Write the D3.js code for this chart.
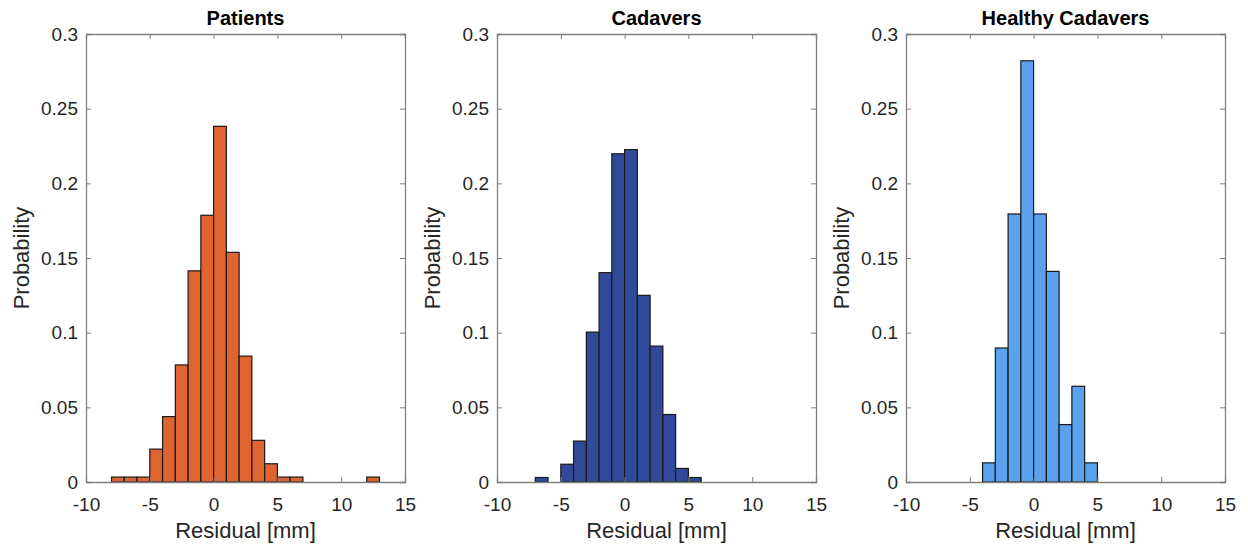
<!DOCTYPE html>
<html>
<head>
<meta charset="utf-8">
<script src="https://cdn.jsdelivr.net/npm/d3@7"></script>
<style>
  body { margin: 0; background: #fff; }
  svg text { font-family: "Liberation Sans", Arial, sans-serif; }
</style>
</head>
<body>
<div id="chart"></div>
<script>
// bin edges are 1 mm wide, listed by left edge
const titles = ["Patients", "Cadavers", "Healthy Cadavers"];
const colors = ["#E06430", "#304A99", "#5AA1EE"];

const patientBins = [-8, -7, -6, -5, -4, -3, -2, -1, 0, 1, 2, 3, 4, 5, 6, 12];
const patientProb = [0.0033, 0.0033, 0.0033, 0.022, 0.0438, 0.0784, 0.1414, 0.1786, 0.2382, 0.1538, 0.0843, 0.0279, 0.0122, 0.0033, 0.0033, 0.0033];

const cadaverBins = [-7, -5, -4, -3, -2, -1, 0, 1, 2, 3, 4, 5];
const cadaverProb = [0.003, 0.0119, 0.0274, 0.1004, 0.1402, 0.2198, 0.2226, 0.125, 0.091, 0.0452, 0.0091, 0.003];

const healthyBins = [-4, -3, -2, -1, 0, 1, 2, 3, 4];
const healthyProb = [1/78, 7/78, 14/78, 22/78, 14/78, 11/78, 3/78, 5/78, 1/78];

const xTicks = [-10, -5, 0, 5, 10, 15];
const yTicks = [0, 0.05, 0.1, 0.15, 0.2, 0.25, 0.3];

const panels = [
  { bins: patientBins, prob: patientProb },
  { bins: cadaverBins, prob: cadaverProb },
  { bins: healthyBins, prob: healthyProb }
];

const svgWidth = 1248;
const svgHeight = 548;
const panelLeft = [86, 497, 906];
const panelW = 319;
const panelTop = 34;
const panelH = 448;
const axisColor = "#808080";
const textColor = "#262626";

const svg = d3.select("#chart")
  .append("svg")
  .attr("width", svgWidth)
  .attr("height", svgHeight);

panels.forEach((p, i) => {
  const g = svg.append("g")
    .attr("transform", `translate(${panelLeft[i]},${panelTop})`);

  const x = d3.scaleLinear().domain([-10, 15]).range([0, panelW]);
  const y = d3.scaleLinear().domain([0, 0.3]).range([panelH, 0]);

  // bars
  g.selectAll(".bar")
    .data(p.bins.map((b, j) => ({ x0: b, x1: b + 1, v: p.prob[j] })))
    .enter()
    .append("rect")
    .attr("class", "bar")
    .attr("x", d => x(d.x0))
    .attr("width", d => x(d.x1) - x(d.x0))
    .attr("y", d => y(d.v))
    .attr("height", d => y(0) - y(d.v))
    .attr("fill", colors[i])
    .attr("stroke", "#1a1a1a")
    .attr("stroke-width", 1.2);

  // axes, ticks pointing inward
  const xAxis = g.append("g")
    .attr("transform", `translate(0,${panelH})`)
    .call(d3.axisBottom(x).tickValues(xTicks).tickSize(-5).tickPadding(16).tickFormat(d => String(d)));
  const xTop = g.append("g")
    .call(d3.axisTop(x).tickValues(xTicks).tickSize(-5).tickFormat(""));
  const yAxis = g.append("g")
    .call(d3.axisLeft(y).tickValues(yTicks).tickSize(-5).tickPadding(8).tickFormat(d => d === 0 ? "0" : String(+d.toFixed(2))));
  const yRight = g.append("g")
    .attr("transform", `translate(${panelW},0)`)
    .call(d3.axisRight(y).tickValues(yTicks).tickSize(-5).tickFormat(""));

  [xAxis, xTop, yAxis, yRight].forEach(a => {
    a.select(".domain").attr("stroke", axisColor).attr("stroke-width", 1.3);
    a.selectAll(".tick line").attr("stroke", axisColor);
    a.selectAll(".tick text")
      .attr("fill", textColor)
      .style("font-size", "19px");
  });

  g.append("text")
    .attr("x", panelW / 2)
    .attr("y", -9)
    .attr("text-anchor", "middle")
    .style("font-size", "20px")
    .style("font-weight", "bold")
    .attr("fill", "#000")
    .text(titles[i]);

  g.append("text")
    .attr("x", panelW / 2)
    .attr("y", panelH + 56)
    .attr("text-anchor", "middle")
    .style("font-size", "22px")
    .attr("fill", textColor)
    .text("Residual [mm]");

  g.append("text")
    .attr("transform", `translate(-57,${panelH / 2}) rotate(-90)`)
    .attr("text-anchor", "middle")
    .style("font-size", "22px")
    .attr("fill", textColor)
    .text("Probability");
});
</script>
</body>
</html>
